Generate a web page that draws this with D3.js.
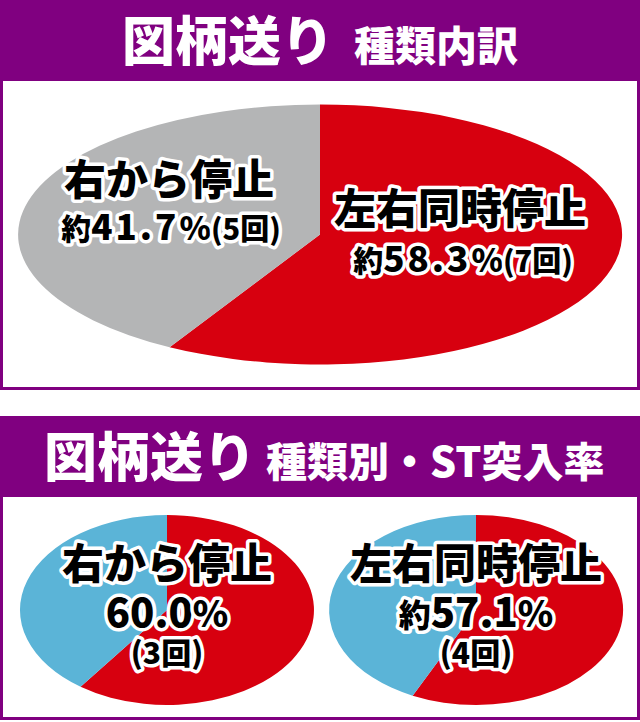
<!DOCTYPE html>
<html>
<head>
<meta charset="utf-8">
<script src="https://cdn.jsdelivr.net/npm/d3@7"></script>
<style>
  body { margin: 0; background: #fff; }
  svg { display: block; }
  text { font-family: "Noto Sans CJK JP", "Noto Sans", sans-serif; font-weight: 900; }
  .lbl { fill: #000; stroke: #fff; stroke-width: 7px; stroke-linejoin: round; paint-order: stroke; }
</style>
</head>
<body>
<svg id="chart"></svg>
<script>
// top pie: 種類内訳
let topCats = ['左右同時停止', '右から停止'];
let topPct = [58.3, 41.7];
let topCounts = [7, 5];

// bottom pies: ST突入率
let stCats = ['右から停止', '左右同時停止'];
let stRate = [60.0, 57.1];
let stRest = [40.0, 42.9];
let stCounts = [3, 4];
let stPrefix = ['', '約'];

let w = 640, h = 722;
let purple = '#800080';
let red = '#d7000f';
let gray = '#b4b5b6';
let blue = '#5bb4d7';

let svg = d3.select('#chart').attr('width', w).attr('height', h);

let pie = d3.pie().sort(null).value(d => d);
let arc = d3.arc().innerRadius(0).outerRadius(1);

let drawPanel = (y0, y1) => {
  svg.append('rect')
    .attr('x', 1.5).attr('y', y0 + 1.5)
    .attr('width', w - 3).attr('height', y1 - y0 - 3)
    .attr('fill', '#fff').attr('stroke', purple).attr('stroke-width', 3)
  svg.append('rect')
    .attr('x', 0).attr('y', y0)
    .attr('width', w).attr('height', 81)
    .attr('fill', purple)
}

let drawPie = (vals, colors, cx, cy, rx, ry) => {
  svg.append('g')
    .attr('transform', 'translate(' + cx + ',' + cy + ') scale(' + rx + ',' + ry + ')')
    .selectAll('path')
    .data(pie(vals))
    .enter()
    .append('path')
    .attr('d', arc)
    .attr('fill', (d, i) => colors[i])
}

// parts: [text, size, letterSpacing]
let drawLine = (x, y, parts) => {
  let t = svg.append('text')
    .attr('class', 'lbl')
    .attr('x', x).attr('y', y)
    .attr('text-anchor', 'middle')
  parts.forEach(p => {
    t.append('tspan')
      .attr('font-size', p[1])
      .attr('letter-spacing', p[2] || 0)
      .text(p[0])
  })
}

let drawTitle = (x, y, big, small, gap) => {
  let t = svg.append('text')
    .attr('x', x).attr('y', y)
    .attr('fill', '#fff')
  t.append('tspan').attr('font-size', 53).text(big)
  t.append('tspan').attr('font-size', 41).attr('dx', gap).text(small)
}

// panel 1
drawPanel(0, 390)
drawTitle(122, 61, '図柄送り', '種類内訳', 20)
drawPie(topPct, [red, gray], 320, 234.5, 302, 130)

drawLine(169, 195, [[topCats[1], 42]])
drawLine(171, 240, [['約', 30], [topPct[1].toFixed(1), 35, 3], ['%', 32], ['(' + topCounts[1] + '回)', 29]])
drawLine(460, 224, [[topCats[0], 42]])
drawLine(463, 272, [['約', 30], [topPct[0].toFixed(1), 35, 3], ['%', 32], ['(' + topCounts[0] + '回)', 29]])

// panel 2
drawPanel(416, 720)
drawTitle(44, 477, '図柄送り', '種類別・ST突入率', 10)

let pieX = [167, 476];
stRate.forEach((r, i) => {
  drawPie([r, stRest[i]], [red, blue], pieX[i], 610, 147, 95)
  drawLine(pieX[i], 579, [[stCats[i], 42]])
  let parts = [];
  if (stPrefix[i]) parts.push([stPrefix[i], 32]);
  parts.push([r.toFixed(1), 40]);
  parts.push(['%', 36]);
  drawLine(pieX[i], 627, parts)
  drawLine(pieX[i], 664, [['(' + stCounts[i] + '回)', 30]])
})
</script>
</body>
</html>
